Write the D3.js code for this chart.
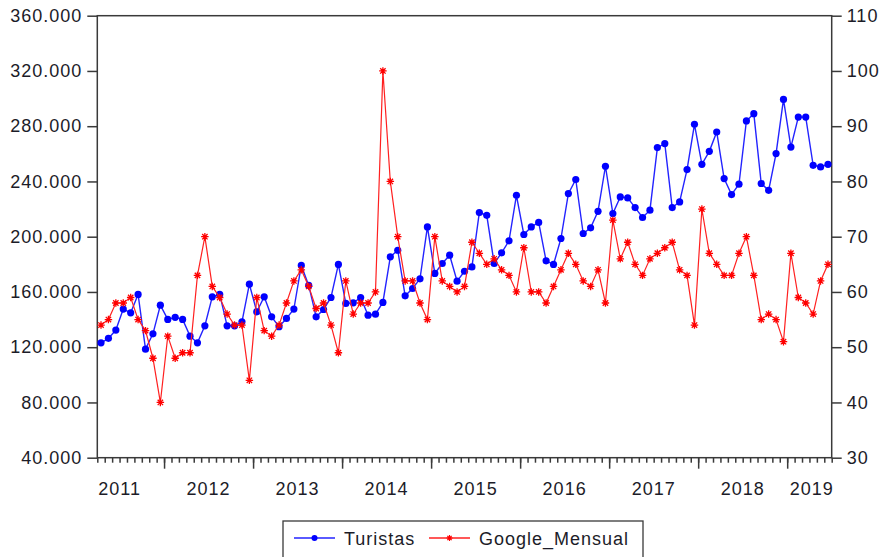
<!DOCTYPE html>
<html>
<head>
<meta charset="utf-8">
<script src="https://cdn.jsdelivr.net/npm/d3@7"></script>
<style>
  body { margin: 0; background: #fff; }
  svg text { font-family: "Liberation Sans", Arial, sans-serif; font-size: 18px; fill: #1c1c28; letter-spacing: 1px; }
</style>
</head>
<body>
<svg id="chart" width="886" height="557"></svg>
<script>
// monthly data, 2011M04 .. 2019M06
const START_YEAR = 2011;
const START_MONTH = 3; // April (0-based)

const turistas = [
  123200, 126400, 132400, 147600, 144900, 158200, 118600, 129700, 150400, 140100,
  141600, 140100, 128000, 123200, 135500, 156500, 158200, 135500, 135500, 138400,
  165600, 145600, 156500, 142000, 134800, 140800, 147600, 179200, 164700, 142000,
  147300, 156000, 179900, 151700, 152100, 156000, 143200, 143900, 152400, 185400,
  190200, 157200, 162500, 169500, 207100, 173400, 180600, 186600, 167800, 175000,
  178100, 217500, 215500, 180600, 188300, 197000, 230000, 201600, 207100, 210300,
  182500, 179900, 198700, 231200, 241400, 202300, 206400, 218400, 251000, 216800,
  228800, 228100, 221100, 213900, 219200, 264500, 267400, 221100, 225200, 248600,
  281400, 252400, 261800, 275800, 242100, 230500, 238000, 283800, 289100, 238500,
  233600, 260200, 299400, 264900, 286600, 286600, 251700, 250500, 252400
];

const googleMensual = [
  54, 55, 58, 58, 59, 55, 53, 48, 40, 52,
  48, 49, 49, 63, 70, 61, 59, 56, 54, 54,
  44, 59, 53, 52, 54, 58, 62, 64, 61, 57,
  58, 54, 49, 62, 56, 58, 58, 60, 100, 80,
  70, 62, 62, 58, 55, 70, 62, 61, 60, 61,
  69, 67, 65, 66, 64, 63, 60, 68, 60, 60,
  58, 61, 64, 67, 65, 62, 61, 64, 58, 73,
  66, 69, 65, 63, 66, 67, 68, 69, 64, 63,
  54, 75, 67, 65, 63, 63, 67, 70, 63, 55,
  56, 55, 51, 67, 59, 58, 56, 62, 65
];

const leftTicks = [40000, 80000, 120000, 160000, 200000, 240000, 280000, 320000, 360000];
const rightTicks = [30, 40, 50, 60, 70, 80, 90, 100, 110];
const seriesNames = ["Turistas", "Google_Mensual"];

const L = 97.3, R = 831.7, T = 15.7, B = 457.7;
const BLUE = "#0000ff", RED = "#ff0000";

const n = turistas.length;
const months = d3.timeMonth.range(new Date(START_YEAR, START_MONTH, 1),
                                  new Date(START_YEAR, START_MONTH + n, 1));
const years = d3.range(START_YEAR, months[n - 1].getFullYear() + 1);

const svg = d3.select("#chart");

const x = d3.scaleLinear().domain([0, n]).range([L, R]);
const yL = d3.scaleLinear().domain([40000, 360000]).range([B, T]);
const yR = d3.scaleLinear().domain([30, 110]).range([B, T]);

const locale = d3.formatLocale({decimal: ",", thousands: ".", grouping: [3], currency: ["", ""]});
const fmt = locale.format(",.0f");

// axes
const axisColor = "#3a3a3a";
function styleAxis(g) {
  g.select(".domain").remove();
  g.selectAll(".tick line").attr("stroke", axisColor).attr("stroke-width", 1.5);
}

svg.append("g")
  .attr("transform", `translate(${L},0)`)
  .call(d3.axisLeft(yL).tickValues(leftTicks).tickSize(10).tickPadding(5).tickFormat(fmt))
  .call(styleAxis);

svg.append("g")
  .attr("transform", `translate(${R},0)`)
  .call(d3.axisRight(yR).tickValues(rightTicks).tickSize(10).tickPadding(5))
  .call(styleAxis);

// monthly minor ticks
svg.append("g")
  .attr("transform", `translate(0,${B})`)
  .call(d3.axisBottom(x).tickValues(d3.range(0, n + 1)).tickSize(5).tickFormat(""))
  .call(styleAxis);

// yearly major ticks
const janIdx = d3.range(1, n).filter(i => months[i].getMonth() === 0);
svg.append("g")
  .attr("transform", `translate(0,${B})`)
  .call(d3.axisBottom(x).tickValues(janIdx).tickSize(11).tickFormat(""))
  .call(styleAxis);

// year labels: centred on calendar year, kept inside the frame
svg.append("g").selectAll("text")
  .data(years)
  .join("text")
  .attr("y", B + 37)
  .attr("text-anchor", "middle")
  .text(d => d)
  .attr("x", function (d) {
    const w = this.getComputedTextLength();
    const c = x((d - START_YEAR) * 12 - START_MONTH + 6);
    return Math.max(L + w / 2, Math.min(R - w / 2 + 2, c));
  });

// frame
svg.append("rect")
  .attr("x", L).attr("y", T)
  .attr("width", R - L).attr("height", B - T)
  .attr("fill", "none")
  .attr("stroke", axisColor)
  .attr("stroke-width", 1.5);

// asterisk marker
const asterisk = {
  draw(ctx, size) {
    const r = Math.sqrt(size) / 2, d = r * 0.72;
    ctx.moveTo(-r, 0); ctx.lineTo(r, 0);
    ctx.moveTo(0, -r); ctx.lineTo(0, r);
    ctx.moveTo(-d, -d); ctx.lineTo(d, d);
    ctx.moveTo(-d, d); ctx.lineTo(d, -d);
  }
};

const xi = (d, i) => x(i + 0.5);

// Turistas
svg.append("path")
  .datum(turistas)
  .attr("fill", "none")
  .attr("stroke", "#2323ff")
  .attr("stroke-width", 1.4)
  .attr("d", d3.line().x(xi).y(d => yL(d)));

svg.append("g").selectAll("circle")
  .data(turistas)
  .join("circle")
  .attr("cx", xi)
  .attr("cy", d => yL(d))
  .attr("r", 3.6)
  .attr("fill", BLUE);

// Google_Mensual
svg.append("path")
  .datum(googleMensual)
  .attr("fill", "none")
  .attr("stroke", "#ff2020")
  .attr("stroke-width", 1.2)
  .attr("d", d3.line().x(xi).y(d => yR(d)));

svg.append("g").selectAll("path")
  .data(googleMensual)
  .join("path")
  .attr("transform", (d, i) => `translate(${xi(d, i)},${yR(d)})`)
  .attr("d", d3.symbol().type(asterisk).size(56))
  .attr("fill", "none")
  .attr("stroke", RED)
  .attr("stroke-width", 1.3);

// legend
const legend = svg.append("g");
legend.append("rect")
  .attr("x", 283).attr("y", 521)
  .attr("width", 360).attr("height", 44)
  .attr("fill", "#fff")
  .attr("stroke", axisColor)
  .attr("stroke-width", 1.3);

const legendX = [294, 429];
const items = legend.selectAll("g.item")
  .data(seriesNames)
  .join("g")
  .attr("class", "item")
  .attr("transform", (d, i) => `translate(${legendX[i]},538)`);

items.append("line")
  .attr("x1", 0).attr("x2", 41)
  .attr("stroke", (d, i) => i ? "#ff2020" : "#2323ff")
  .attr("stroke-width", 1.4);

items.filter((d, i) => i === 0).append("circle")
  .attr("cx", 20.5).attr("r", 3)
  .attr("fill", BLUE);

items.filter((d, i) => i === 1).append("path")
  .attr("transform", "translate(20.5,0)")
  .attr("d", d3.symbol().type(asterisk).size(36))
  .attr("fill", "none")
  .attr("stroke", RED)
  .attr("stroke-width", 1.2);

items.append("text")
  .attr("x", 50)
  .attr("y", 7)
  .text(d => d);
</script>
</body>
</html>
